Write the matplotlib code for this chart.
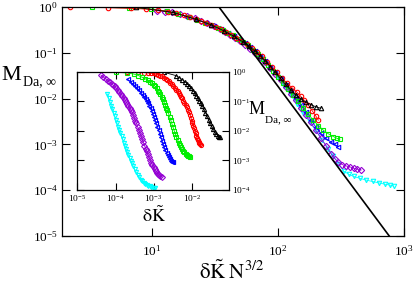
import numpy as np
import matplotlib
matplotlib.use("Agg")
import matplotlib.pyplot as plt

plt.rcParams['font.family'] = ['Liberation Serif', 'DejaVu Serif']
plt.rcParams['mathtext.fontset'] = 'stix'

# ---------------- data (log10 values) ----------------
sizes_N = [256, 512, 1024, 2048, 4096, 8192]
colors = ['black', '#ff0000', '#00ee00', '#0000ff', '#9400d3', '#00ffff']
markers = ['^', 'o', 's', '<', 'D', 'v']

# main panel: log10(dK N^{3/2}) and log10(M)
main_logx_black = [0.87, 1.17, 1.35, 1.47, 1.57, 1.65, 1.72, 1.77, 1.82, 1.86, 1.90, 1.94, 1.98, 2.02, 2.06, 2.10, 2.14, 2.18, 2.22, 2.26, 2.30, 2.34]
main_logy_black = [-0.005, -0.12, -0.27, -0.39, -0.52, -0.64, -0.76, -0.86, -0.97, -1.07, -1.18, -1.30, -1.43, -1.56, -1.69, -1.81, -1.92, -2.01, -2.08, -2.13, -2.18, -2.21]
main_logx_red = [0.35, 0.65, 0.83, 0.95, 1.05, 1.13, 1.19, 1.25, 1.30, 1.35, 1.39, 1.43, 1.47, 1.51, 1.55, 1.59, 1.63, 1.67, 1.71, 1.75, 1.79, 1.83, 1.87, 1.91, 1.95, 1.99, 2.03, 2.07, 2.11, 2.15, 2.18, 2.21, 2.24, 2.27, 2.30, 2.32]
main_logy_red = [-0.005, -0.015, -0.03, -0.045, -0.07, -0.10, -0.14, -0.18, -0.22, -0.27, -0.31, -0.35, -0.39, -0.44, -0.49, -0.55, -0.61, -0.67, -0.74, -0.81, -0.89, -0.98, -1.08, -1.19, -1.31, -1.43, -1.55, -1.66, -1.76, -1.86, -1.95, -2.04, -2.14, -2.26, -2.38, -2.47]
main_logx_green = [0.52, 0.82, 0.99, 1.12, 1.21, 1.29, 1.36, 1.42, 1.47, 1.52, 1.56, 1.60, 1.64, 1.68, 1.72, 1.76, 1.80, 1.84, 1.88, 1.92, 1.96, 2.00, 2.04, 2.08, 2.12, 2.16, 2.20, 2.24, 2.28, 2.32, 2.36, 2.40, 2.44, 2.47, 2.49]
main_logy_green = [-0.005, -0.02, -0.045, -0.09, -0.15, -0.21, -0.28, -0.34, -0.39, -0.45, -0.50, -0.56, -0.62, -0.69, -0.76, -0.84, -0.93, -1.03, -1.14, -1.26, -1.39, -1.52, -1.65, -1.78, -1.92, -2.06, -2.20, -2.34, -2.47, -2.59, -2.69, -2.77, -2.83, -2.87, -2.89]
main_logx_blue = [1.28, 1.36, 1.43, 1.49, 1.55, 1.60, 1.65, 1.70, 1.74, 1.78, 1.82, 1.86, 1.90, 1.94, 1.98, 2.02, 2.06, 2.10, 2.14, 2.18, 2.22, 2.26, 2.30, 2.34, 2.38, 2.42, 2.45, 2.48]
main_logy_blue = [-0.22, -0.28, -0.35, -0.42, -0.49, -0.56, -0.63, -0.71, -0.79, -0.88, -0.97, -1.07, -1.18, -1.30, -1.43, -1.56, -1.70, -1.84, -1.99, -2.14, -2.30, -2.46, -2.62, -2.76, -2.87, -2.95, -3.00, -3.05]
main_logx_purple = [1.04, 1.10, 1.16, 1.22, 1.28, 1.34, 1.39, 1.44, 1.49, 1.54, 1.58, 1.62, 1.66, 1.70, 1.74, 1.78, 1.82, 1.86, 1.90, 1.94, 1.98, 2.02, 2.06, 2.10, 2.14, 2.18, 2.22, 2.26, 2.30, 2.34, 2.38, 2.42, 2.45, 2.48, 2.51, 2.54, 2.57, 2.60, 2.63, 2.66]
main_logy_purple = [-0.08, -0.10, -0.12, -0.16, -0.20, -0.25, -0.30, -0.36, -0.42, -0.49, -0.55, -0.61, -0.68, -0.75, -0.83, -0.91, -1.00, -1.10, -1.21, -1.33, -1.46, -1.60, -1.74, -1.89, -2.04, -2.20, -2.36, -2.52, -2.69, -2.86, -3.03, -3.20, -3.31, -3.39, -3.44, -3.47, -3.49, -3.52, -3.54, -3.56]
main_logx_cyan = [1.64, 1.70, 1.76, 1.82, 1.88, 1.94, 2.00, 2.05, 2.10, 2.15, 2.20, 2.25, 2.30, 2.35, 2.40, 2.44, 2.48, 2.52, 2.56, 2.60, 2.65, 2.70, 2.75, 2.80, 2.85, 2.89, 2.92]
main_logy_cyan = [-0.65, -0.74, -0.85, -0.98, -1.14, -1.33, -1.53, -1.73, -1.92, -2.12, -2.32, -2.51, -2.70, -2.90, -3.09, -3.25, -3.42, -3.58, -3.65, -3.70, -3.74, -3.78, -3.81, -3.84, -3.87, -3.89, -3.91]

# inset: log10(dK) and log10(M)
ins_logx_black = [-2.74, -2.42, -2.33, -2.25, -2.18, -2.12, -2.06, -2.01, -1.96, -1.92, -1.88, -1.84, -1.80, -1.76, -1.72, -1.68, -1.64, -1.60, -1.56, -1.52, -1.48, -1.44, -1.40, -1.36, -1.32, -1.29, -1.27]
ins_logy_black = [-0.005, -0.12, -0.19, -0.26, -0.33, -0.40, -0.48, -0.56, -0.64, -0.72, -0.80, -0.88, -0.97, -1.06, -1.16, -1.27, -1.38, -1.50, -1.62, -1.73, -1.84, -1.94, -2.03, -2.10, -2.16, -2.20, -2.22]
ins_logx_red = [-3.71, -3.41, -3.26, -3.16, -3.08, -3.00, -2.94, -2.88, -2.83, -2.78, -2.73, -2.68, -2.64, -2.60, -2.56, -2.52, -2.48, -2.44, -2.40, -2.37, -2.34, -2.31, -2.28, -2.25, -2.22, -2.19, -2.16, -2.13, -2.10, -2.07, -2.04, -2.02, -2.00, -1.98, -1.96, -1.94, -1.92, -1.90, -1.88, -1.86, -1.84, -1.82, -1.80, -1.78, -1.76]
ins_logy_red = [-0.005, -0.01, -0.02, -0.03, -0.04, -0.05, -0.07, -0.09, -0.12, -0.15, -0.19, -0.23, -0.27, -0.32, -0.37, -0.42, -0.48, -0.54, -0.60, -0.66, -0.72, -0.78, -0.84, -0.90, -0.97, -1.04, -1.12, -1.20, -1.28, -1.37, -1.47, -1.56, -1.65, -1.74, -1.83, -1.92, -2.00, -2.08, -2.16, -2.24, -2.31, -2.37, -2.42, -2.46, -2.49]
ins_logx_green = [-4.00, -3.70, -3.52, -3.40, -3.30, -3.22, -3.15, -3.09, -3.04, -3.00, -2.96, -2.92, -2.88, -2.85, -2.82, -2.79, -2.76, -2.73, -2.70, -2.67, -2.64, -2.61, -2.58, -2.55, -2.52, -2.49, -2.46, -2.43, -2.40, -2.37, -2.34, -2.31, -2.28, -2.25, -2.22, -2.19, -2.16, -2.13, -2.10, -2.07, -2.04]
ins_logy_green = [-0.01, -0.03, -0.07, -0.12, -0.18, -0.23, -0.28, -0.34, -0.39, -0.43, -0.49, -0.55, -0.63, -0.69, -0.76, -0.85, -0.93, -1.02, -1.11, -1.21, -1.29, -1.40, -1.52, -1.64, -1.76, -1.88, -2.00, -2.11, -2.21, -2.31, -2.40, -2.48, -2.56, -2.62, -2.68, -2.73, -2.77, -2.81, -2.84, -2.87, -2.90]
ins_logx_blue = [-3.68, -3.60, -3.54, -3.48, -3.43, -3.38, -3.33, -3.29, -3.25, -3.21, -3.17, -3.14, -3.11, -3.08, -3.05, -3.02, -2.99, -2.96, -2.93, -2.90, -2.87, -2.84, -2.81, -2.78, -2.75, -2.72, -2.69, -2.66, -2.63, -2.60, -2.57, -2.54, -2.51, -2.49]
ins_logy_blue = [-0.25, -0.34, -0.41, -0.48, -0.55, -0.62, -0.70, -0.77, -0.84, -0.91, -0.99, -1.06, -1.14, -1.22, -1.32, -1.42, -1.53, -1.64, -1.75, -1.86, -1.98, -2.10, -2.22, -2.34, -2.45, -2.56, -2.66, -2.75, -2.83, -2.90, -2.96, -3.01, -3.05, -3.07]
ins_logx_purple = [-4.38, -4.32, -4.26, -4.20, -4.15, -4.10, -4.06, -4.02, -3.98, -3.94, -3.90, -3.86, -3.82, -3.78, -3.75, -3.72, -3.69, -3.66, -3.63, -3.60, -3.57, -3.54, -3.51, -3.48, -3.45, -3.42, -3.39, -3.36, -3.33, -3.30, -3.27, -3.24, -3.21, -3.18, -3.15, -3.12, -3.09, -3.06, -3.03, -3.00, -2.97, -2.94, -2.91, -2.88, -2.85, -2.82, -2.79]
ins_logy_purple = [-0.11, -0.17, -0.23, -0.29, -0.35, -0.40, -0.45, -0.49, -0.55, -0.61, -0.68, -0.74, -0.81, -0.89, -0.95, -1.02, -1.08, -1.14, -1.21, -1.28, -1.36, -1.45, -1.55, -1.65, -1.75, -1.86, -1.97, -2.07, -2.17, -2.28, -2.39, -2.50, -2.60, -2.70, -2.80, -2.90, -2.99, -3.08, -3.16, -3.24, -3.31, -3.37, -3.42, -3.46, -3.50, -3.53, -3.57]
ins_logx_cyan = [-4.22, -4.18, -4.14, -4.11, -4.08, -4.05, -4.02, -3.99, -3.96, -3.93, -3.90, -3.87, -3.84, -3.81, -3.78, -3.75, -3.72, -3.69, -3.66, -3.63, -3.60, -3.57, -3.54, -3.50, -3.46, -3.42, -3.38, -3.34, -3.30, -3.26, -3.22, -3.18, -3.14, -3.10, -3.06, -3.02, -2.99, -2.97]
ins_logy_cyan = [-0.74, -0.88, -1.03, -1.14, -1.26, -1.38, -1.50, -1.62, -1.74, -1.86, -1.98, -2.08, -2.18, -2.29, -2.40, -2.51, -2.62, -2.72, -2.82, -2.92, -3.01, -3.10, -3.19, -3.30, -3.40, -3.50, -3.58, -3.66, -3.72, -3.77, -3.81, -3.85, -3.87, -3.89, -3.91, -3.93, -3.94, -3.95]

# reference power law: M = (x / x0)^slope
line_x0 = 34.0
line_slope = -3.7

main_x = [main_logx_black, main_logx_red, main_logx_green, main_logx_blue, main_logx_purple, main_logx_cyan]
main_y = [main_logy_black, main_logy_red, main_logy_green, main_logy_blue, main_logy_purple, main_logy_cyan]
ins_x = [ins_logx_black, ins_logx_red, ins_logx_green, ins_logx_blue, ins_logx_purple, ins_logx_cyan]
ins_y = [ins_logy_black, ins_logy_red, ins_logy_green, ins_logy_blue, ins_logy_purple, ins_logy_cyan]

W, H = 415, 283
fig = plt.figure(figsize=(W / 100, H / 100), dpi=100)

def fx(px):
    return px / W

def fy(py):
    return 1 - py / H

ax = fig.add_axes([fx(62), fy(236), fx(404) - fx(62), fy(7) - fy(236)])
ax.set_xscale('log')
ax.set_yscale('log')

order = [5, 4, 3, 2, 1, 0]
for i in order:
    ax.plot(10 ** np.array(main_x[i]), 10 ** np.array(main_y[i]), color=colors[i], lw=0.6,
            marker=markers[i], ms=3.2, mfc='none', mec=colors[i], mew=0.8)

lx = np.array([1.0, 2000.0])
ax.plot(lx, (lx / line_x0) ** line_slope, color='black', lw=1.2)

ax.set_xlim(1.93, 1000)
ax.set_ylim(1e-5, 1)
ax.set_xticks([10, 100, 1000])
ax.set_yticks([1e-5, 1e-4, 1e-3, 1e-2, 1e-1, 1])
ax.xaxis.set_minor_locator(matplotlib.ticker.NullLocator())
ax.yaxis.set_minor_locator(matplotlib.ticker.NullLocator())
ax.tick_params(which='major', direction='in', length=5.5, width=0.8, top=True, right=True,
               labelsize=9.5, colors='black')
ax.tick_params(axis='x', pad=6)
ax.tick_params(axis='y', pad=3)
for s in ax.spines.values():
    s.set_linewidth(0.9)

# main labels
fig.text(fx(1.5), fy(80), 'M', fontsize=16, ha='left', va='baseline')
fig.text(fx(23), fy(85), 'Da, ∞', fontsize=10, ha='left', va='baseline')
fig.text(fx(199), fy(279), r'$\mathrm{\delta}\tilde{\mathrm{K}}\;\mathrm{N}^{3/2}$', fontsize=15,
         ha='left', va='baseline')

# inset
axi = fig.add_axes([fx(77.4), fy(189.7), fx(229) - fx(77.4), fy(72) - fy(189.7)])
axi.set_xscale('log')
axi.set_yscale('log')
for i in range(6):
    axi.plot(10 ** np.array(ins_x[i]), 10 ** np.array(ins_y[i]), color=colors[i], lw=0.6,
             marker=markers[i], ms=3.0, mfc='none', mec=colors[i], mew=0.8)
axi.set_xlim(1e-5, 0.095)
axi.set_ylim(1e-4, 1)
axi.set_xticks([1e-5, 1e-4, 1e-3, 1e-2])
axi.set_yticks([1e-4, 1e-3, 1e-2, 1e-1, 1])
axi.xaxis.set_minor_locator(matplotlib.ticker.NullLocator())
axi.yaxis.set_minor_locator(matplotlib.ticker.NullLocator())
axi.tick_params(which='major', direction='in', length=5, width=0.8, top=True, right=True,
                labelleft=False, labelright=True, labelsize=6.8, pad=2.5)
for s in axi.spines.values():
    s.set_linewidth(0.9)

fig.text(fx(249), fy(114), 'M', fontsize=13, ha='left', va='baseline')
fig.text(fx(265), fy(122), 'Da, ∞', fontsize=8, ha='left', va='baseline')
fig.text(fx(142), fy(222), r'$\mathrm{\delta}\tilde{\mathrm{K}}$', fontsize=13, ha='left', va='baseline')

fig.savefig('out.png', dpi=100)
